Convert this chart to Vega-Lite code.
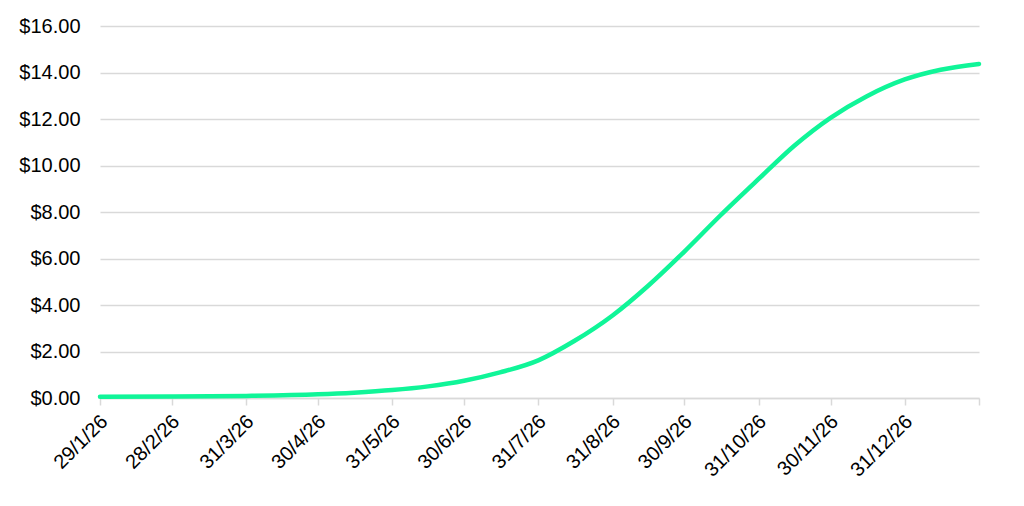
{
  "$schema": "https://vega.github.io/schema/vega-lite/v6.json",
  "width": 879,
  "height": 372,
  "autosize": {"type": "none"},
  "padding": {"left": 100, "top": 26, "right": 45, "bottom": 108},
  "background": "white",
  "config": {
    "view": {"stroke": null},
    "font": "Liberation Sans"
  },
  "data": {
    "values": [
      {"date": "2026-01-29", "price": 0.05},
      {"date": "2026-02-28", "price": 0.06},
      {"date": "2026-03-31", "price": 0.09},
      {"date": "2026-04-30", "price": 0.16},
      {"date": "2026-05-15", "price": 0.23},
      {"date": "2026-05-31", "price": 0.34},
      {"date": "2026-06-15", "price": 0.5},
      {"date": "2026-06-30", "price": 0.74},
      {"date": "2026-07-15", "price": 1.1},
      {"date": "2026-07-31", "price": 1.62},
      {"date": "2026-08-15", "price": 2.45},
      {"date": "2026-08-31", "price": 3.55},
      {"date": "2026-09-15", "price": 4.84},
      {"date": "2026-09-30", "price": 6.3},
      {"date": "2026-10-15", "price": 7.85},
      {"date": "2026-10-31", "price": 9.42},
      {"date": "2026-11-15", "price": 10.86},
      {"date": "2026-11-30", "price": 12.05},
      {"date": "2026-12-15", "price": 12.97},
      {"date": "2026-12-31", "price": 13.7},
      {"date": "2027-01-15", "price": 14.12},
      {"date": "2027-01-31", "price": 14.37}
    ]
  },
  "mark": {"type": "line", "color": "#10F598", "strokeWidth": 4.5, "strokeCap": "round", "interpolate": "monotone"},
  "encoding": {
    "x": {
      "field": "date",
      "type": "temporal",
      "scale": {"type": "utc", "domain": [{"year": 2026, "month": 1, "date": 29, "utc": true}, {"year": 2027, "month": 1, "date": 31, "utc": true}], "nice": false},
      "axis": {
        "title": null,
        "values": [
          {"year": 2026, "month": 1, "date": 29, "utc": true},
          {"year": 2026, "month": 2, "date": 28, "utc": true},
          {"year": 2026, "month": 3, "date": 31, "utc": true},
          {"year": 2026, "month": 4, "date": 30, "utc": true},
          {"year": 2026, "month": 5, "date": 31, "utc": true},
          {"year": 2026, "month": 6, "date": 30, "utc": true},
          {"year": 2026, "month": 7, "date": 31, "utc": true},
          {"year": 2026, "month": 8, "date": 31, "utc": true},
          {"year": 2026, "month": 9, "date": 30, "utc": true},
          {"year": 2026, "month": 10, "date": 31, "utc": true},
          {"year": 2026, "month": 11, "date": 30, "utc": true},
          {"year": 2026, "month": 12, "date": 31, "utc": true},
          {"year": 2027, "month": 1, "date": 31, "utc": true}
        ],
        "labelExpr": "datum.value > datetime(2027,0,15) ? '' : utcFormat(datum.value, '%-d/%-m/%y')",
        "labelAngle": -45,
        "labelAlign": "right",
        "labelBaseline": "top",
        "labelFontSize": 20,
        "labelColor": "#000000",
        "labelPadding": 6,
        "labelOffset": -3,
        "labelOverlap": false,
        "labelFlush": false,
        "grid": false,
        "domainColor": "#d9d9d9",
        "domainWidth": 1.5,
        "tickColor": "#d9d9d9",
        "tickWidth": 1.5,
        "tickSize": 7
      }
    },
    "y": {
      "field": "price",
      "type": "quantitative",
      "scale": {"domain": [0, 16], "nice": false},
      "axis": {
        "title": null,
        "values": [0, 2, 4, 6, 8, 10, 12, 14, 16],
        "format": "$.2f",
        "labelFontSize": 20,
        "labelColor": "#000000",
        "labelPadding": 20,
        "ticks": false,
        "domain": false,
        "gridColor": "#d9d9d9",
        "gridWidth": 1.5
      }
    }
  }
}
